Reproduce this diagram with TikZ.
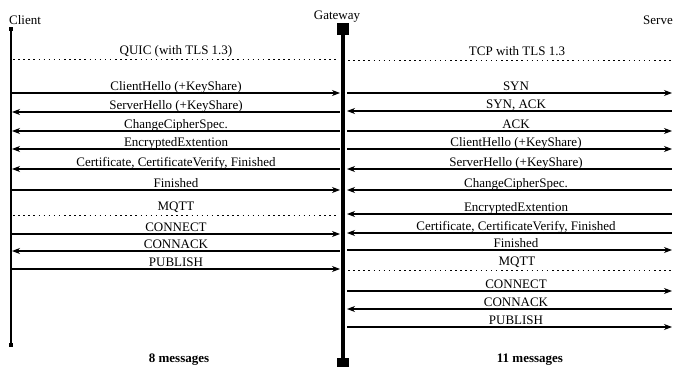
\documentclass[tikz,border=0pt]{standalone}
\usepackage{fontspec}
\setmainfont{Liberation Serif}
\usetikzlibrary{arrows.meta}
\begin{document}
\begin{tikzpicture}[x=1pt,y=-1pt,
  >={Stealth[length=8pt,width=6pt,inset=2.5pt]},
  every node/.style={font=\fontsize{13}{15}\selectfont},
  msg/.style={line width=1.1pt},
  sep/.style={line width=1pt, dash pattern=on 1.5pt off 3.6pt},
  lbl/.style={anchor=base, inner sep=0pt, yshift=2.5pt},
  seplbl/.style={anchor=base, inner sep=0pt, yshift=4.5pt},
  gwsq/.style={fill=black, draw=none, minimum size=12pt, inner sep=0pt},
  clsq/.style={fill=black, draw=none, minimum size=4pt, inner sep=0pt},
  title/.style={inner sep=0pt}
]
\useasboundingbox (0,0) rectangle (673,367);

% titles
\node[title, anchor=base west] (clientlbl) at (9,24) {Client};
\node[title, anchor=base] (gwlbl) at (337,19) {Gateway};
\node[title, anchor=base east] (srvlbl) at (673,24) {Serve};

% lifelines
\node[clsq] (ctop) at (11,29) {};
\node[clsq] (cbot) at (11,345) {};
\draw[line width=1.5pt] (ctop) -- (cbot);
\node[gwsq] (gtop) at (343,29) {};
\node[gwsq] (gbot) at (343,364) {};
\draw[line width=4.5pt] (gtop) -- (gbot);

% separators
\coordinate (qa) at (13,59); \coordinate (qb) at (339,59);
\draw[sep] (qa) -- node[seplbl]{QUIC (with TLS 1.3)} (qb);
\coordinate (ma) at (13,215); \coordinate (mb) at (339,215);
\draw[sep] (ma) -- node[seplbl]{MQTT} (mb);
\coordinate (ta) at (348,60); \coordinate (tb) at (673,60);
\draw[sep] (ta) -- node[seplbl, pos=0.52]{TCP with TLS 1.3} (tb);
\coordinate (na) at (348,270); \coordinate (nb) at (673,270);
\draw[sep] (na) -- node[seplbl, pos=0.52]{MQTT} (nb);

% client <-> gateway
\foreach \y/\d/\t [count=\i] in {
  93/->/{ClientHello (+KeyShare)},
  112/<-/{ServerHello (+KeyShare)},
  131/<-/{ChangeCipherSpec.},
  149/<-/{EncryptedExtention},
  169/<-/{Certificate, CertificateVerify, Finished},
  190/->/{Finished},
  234/->/{CONNECT},
  251/<-/{CONNACK},
  269/->/{PUBLISH}}
{
  \coordinate (cl\i) at (12,\y);
  \coordinate (gl\i) at (340,\y);
  \draw[msg,\d] (cl\i) -- node[lbl]{\t} (gl\i);
}

% gateway <-> server
\foreach \y/\d/\t [count=\i] in {
  93/->/{SYN},
  111/<-/{SYN, ACK},
  131/->/{ACK},
  149/->/{ClientHello (+KeyShare)},
  169/<-/{ServerHello (+KeyShare)},
  190/<-/{ChangeCipherSpec.},
  214/<-/{EncryptedExtention},
  233/<-/{Certificate, CertificateVerify, Finished},
  250/->/{Finished},
  291/->/{CONNECT},
  309/<-/{CONNACK},
  327/->/{PUBLISH}}
{
  \coordinate (gr\i) at (347,\y);
  \coordinate (sr\i) at (672,\y);
  \draw[msg,\d] (gr\i) -- node[lbl, pos=0.52]{\t} (sr\i);
}

% totals
\node[title, anchor=base, font=\fontsize{13}{15}\selectfont\bfseries] (tot1) at (179,362) {8 messages};
\node[title, anchor=base, font=\fontsize{13}{15}\selectfont\bfseries] (tot2) at (530,362) {11 messages};
\end{tikzpicture}
\end{document}
